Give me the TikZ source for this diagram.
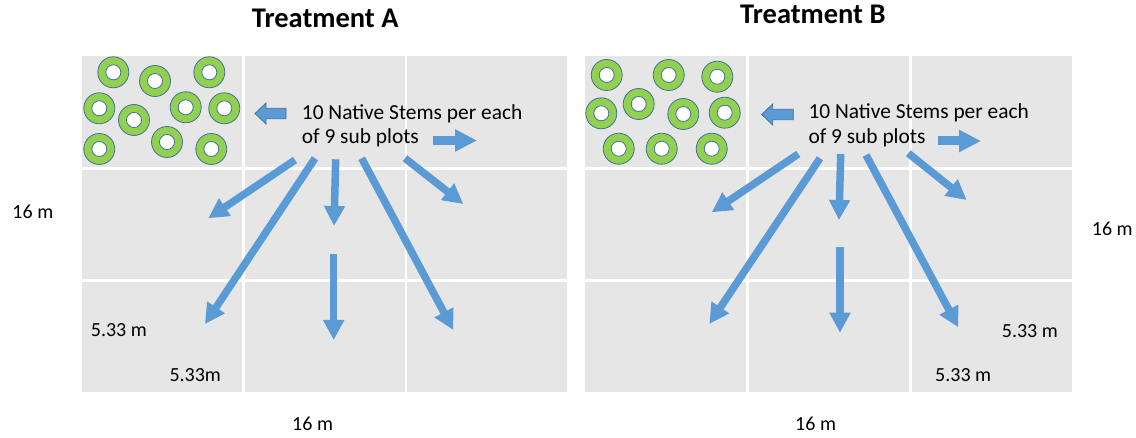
\documentclass[tikz,border=0pt]{standalone}
\usepackage{fontspec}
\setmainfont{Carlito}
\usetikzlibrary{arrows.meta}
\definecolor{cellgray}{HTML}{E6E6E6}
\definecolor{arrblue}{HTML}{5B9BD5}
\definecolor{ringgreen}{HTML}{92D050}
\definecolor{ringedge}{HTML}{41719C}
\tikzset{
  plotbg/.style={fill=cellgray},
  gridline/.style={draw=white, line width=2.6pt},
  ringout/.style={circle, fill=ringgreen, draw=ringedge, line width=0.8pt, minimum size=31pt, inner sep=0pt},
  ringin/.style={circle, fill=white, draw=ringedge, line width=0.8pt, minimum size=15pt, inner sep=0pt},
  stemarrow/.style={draw=arrblue, line width=7.5pt, -{Triangle[width=20pt,length=20pt]}},
  rightblock/.style={draw=arrblue, line width=9pt, -{Triangle[width=21pt,length=22pt]}},
  leftblock/.style={fill=arrblue, draw=ringedge, line width=0.8pt},
  lbl/.style={anchor=base west, inner sep=0pt, font=\fontsize{20}{24}\selectfont},
  notetext/.style={anchor=base west, inner sep=0pt, font=\fontsize{21.4}{25}\selectfont},
  titletext/.style={anchor=base west, inner sep=0pt, font=\bfseries\fontsize{28.5}{33}\selectfont},
}
\begin{document}
\begin{tikzpicture}[x=1pt,y=-1pt]
\useasboundingbox (0,0) rectangle (1136,438);

% ---------- Plot A ----------
\fill[plotbg] (82,56) rectangle (567,392);
\draw[gridline] (243.3,56) -- (243.3,392);
\draw[gridline] (406,56) -- (406,392);
\draw[gridline] (82,168.8) -- (567,168.8);
\draw[gridline] (82,280.7) -- (567,280.7);

% ---------- Plot B ----------
\fill[plotbg] (585,56) rectangle (1072,392);
\draw[gridline] (747.3,56) -- (747.3,392);
\draw[gridline] (910.5,56) -- (910.5,392);
\draw[gridline] (585,168.8) -- (1072,168.8);
\draw[gridline] (585,280.7) -- (1072,280.7);

% ---------- rings A ----------
\foreach \i/\x/\y in {1/113.3/72.3, 2/155/81, 3/209.3/72.3, 4/99.3/108.3, 5/134/120,
                      6/185.7/107.3, 7/224.3/108.3, 8/99.3/149, 9/167/142, 10/211.3/149}{
  \node[ringout] (ra\i) at (\x,\y) {};
  \node[ringin] (rai\i) at (\x,\y) {};
}
% ---------- rings B ----------
\foreach \i/\x/\y in {1/606.7/75, 2/668.7/75, 3/717.3/76.7, 4/601.3/113.3, 5/638.7/104,
                      6/683.3/114, 7/724.7/112.7, 8/618.7/148.7, 9/661.7/148.7, 10/711.7/148.7}{
  \node[ringout] (rb\i) at (\x,\y) {};
  \node[ringin] (rbi\i) at (\x,\y) {};
}

% ---------- texts ----------
\node[titletext] (titleA) at (251.7,27.3) {Treatment A};
\node[titletext] (titleB) at (740,24) {Treatment B};

\node[notetext] (noteA1) at (301.7,120) {10 Native Stems per each};
\node[notetext] (noteA2) at (301.7,144) {of 9 sub plots};
\node[notetext] (noteB1) at (808.3,119) {10 Native Stems per each};
\node[notetext] (noteB2) at (808.3,143.5) {of 9 sub plots};

\node[lbl] (sideA) at (12.3,219) {16 m};
\node[lbl] (sideB) at (1091.7,236) {16 m};
\node[lbl] (botA) at (292,431) {16 m};
\node[lbl] (botB) at (795,431) {16 m};
\node[lbl] (cellA1) at (90.7,336.7) {5.33 m};
\node[lbl] (cellA2) at (169.3,381.7) {5.33m};
\node[lbl] (cellB1) at (1001.7,337.7) {5.33 m};
\node[lbl] (cellB2) at (935,381.7) {5.33 m};

% ---------- block arrows ----------
\draw[leftblock] (255,113.5) -- (266,103) -- (266,108.3) -- (286,108.3) -- (286,118.7)
  -- (266,118.7) -- (266,124) -- cycle;
\draw[leftblock] (761.7,114.5) -- (772.7,104) -- (772.7,109.3) -- (793.3,109.3) -- (793.3,119.7)
  -- (772.7,119.7) -- (772.7,125) -- cycle;

\coordinate (ra-s) at (433,140.5);  \coordinate (ra-e) at (477,140.5);
\coordinate (rb-s) at (938,141);    \coordinate (rb-e) at (981,141);
\draw[rightblock] (ra-s) -- (ra-e);
\draw[rightblock] (rb-s) -- (rb-e);

% ---------- stem arrows A ----------
\coordinate (a1s) at (295,160);     \coordinate (a1e) at (208.3,218.3);
\coordinate (a2s) at (315,158.3);   \coordinate (a2e) at (205,324);
\coordinate (a3s) at (335.7,159.3); \coordinate (a3e) at (334,226);
\coordinate (a4s) at (361.7,158.3); \coordinate (a4e) at (453.3,330);
\coordinate (a5s) at (405,158.3);   \coordinate (a5e) at (463.3,204);
\coordinate (a6s) at (333.7,254);   \coordinate (a6e) at (333.7,340);
\foreach \k in {1,...,6}{\draw[stemarrow] (a\k s) -- (a\k e);}

% ---------- stem arrows B ----------
\coordinate (b1s) at (798.3,154);   \coordinate (b1e) at (711.7,212.3);
\coordinate (b2s) at (820,158.3);   \coordinate (b2e) at (709.3,324);
\coordinate (b3s) at (840.7,154);   \coordinate (b3e) at (839,220);
\coordinate (b4s) at (866,155);     \coordinate (b4e) at (958.3,327.3);
\coordinate (b5s) at (908.3,153.3); \coordinate (b5e) at (966.7,200);
\coordinate (b6s) at (840,247.3);   \coordinate (b6e) at (840,332.7);
\foreach \k in {1,...,6}{\draw[stemarrow] (b\k s) -- (b\k e);}
\end{tikzpicture}
\end{document}
